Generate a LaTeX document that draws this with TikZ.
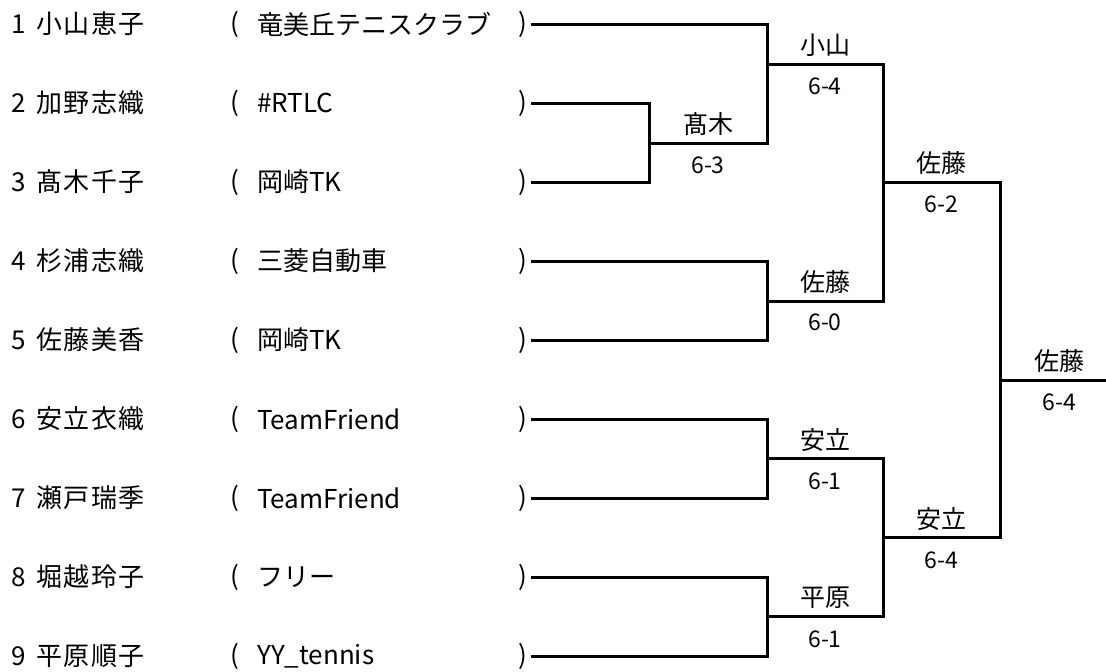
\documentclass[tikz,border=0pt]{standalone}
\usepackage{fontspec}
\setmainfont{Noto Sans CJK JP}
\begin{document}
\begin{tikzpicture}[x=1pt,y=-1pt,
  br/.style={line width=3pt,line cap=rect},
  ent/.style={anchor=west,inner sep=0pt,font=\fontsize{26}{28}\selectfont},
  nm/.style={ent,font=\fontsize{26}{28}\selectfont\addfontfeature{LetterSpace=6}},
  win/.style={inner sep=0pt,font=\fontsize{25}{28}\selectfont},
  sc/.style={inner sep=0pt,font=\fontsize{23}{26}\selectfont}]
\useasboundingbox (0,0) rectangle (1106,672);
% entries
\foreach \i/\n/\c/\y in {1/小山恵子/竜美丘テニスクラブ/24,2/加野志織/\#RTLC/103,3/髙木千子/岡崎TK/182,4/杉浦志織/三菱自動車/261,5/佐藤美香/岡崎TK/340,6/安立衣織/TeamFriend/419,7/瀬戸瑞季/TeamFriend/498,8/堀越玲子/フリー/577,9/平原順子/YY\_tennis/656}{
  \node[ent] (k\i) at (11,\y) {\i};
  \node[nm] (n\i) at (36,\y) {\n};
  \node[ent] (o\i) at (230,\y) {(};
  \node[ent] (c\i) at (257,\y) {\c};
  \node[ent,anchor=east] (cl\i) at (527,\y) {)};
  \coordinate (s\i) at (532,\y);
}
% coordinates
\coordinate (v23) at (649,143); \coordinate (w23) at (767,143);
\coordinate (q1) at (767,64);   \coordinate (r1) at (883,64);
\coordinate (q45) at (767,301); \coordinate (r45) at (883,301);
\coordinate (t1) at (883,182);  \coordinate (u1) at (1000,182);
\coordinate (q67) at (767,458); \coordinate (r67) at (883,458);
\coordinate (q89) at (767,616); \coordinate (r89) at (883,616);
\coordinate (t2) at (883,537);  \coordinate (u2) at (1000,537);
\coordinate (f) at (1000,380);  \coordinate (fe) at (1106,380);
% bracket lines
\draw[br] (s2) -| (v23) |- (s3);
\draw[br] (v23) -- (w23);
\draw[br] (s1) -| (q1) -- (w23);
\draw[br] (q1) -- (r1);
\draw[br] (s4) -| (q45) |- (s5);
\draw[br] (q45) -- (r45);
\draw[br] (r1) -- (r45);
\draw[br] (t1) -- (u1);
\draw[br] (s6) -| (q67) |- (s7);
\draw[br] (q67) -- (r67);
\draw[br] (s8) -| (q89) |- (s9);
\draw[br] (q89) -- (r89);
\draw[br] (r67) -- (r89);
\draw[br] (t2) -- (u2);
\draw[br] (u1) -- (u2);
\draw[br,line cap=butt] (f) -- (fe);
% winners and scores
\node[win] (a1) at (708,124) {髙木};   \node[sc] (b1) at (708,165) {6-3};
\node[win] (a2) at (825,45) {小山};    \node[sc] (b2) at (825,86) {6-4};
\node[win] (a3) at (825,282) {佐藤};   \node[sc] (b3) at (825,322) {6-0};
\node[win] (a4) at (941,163) {佐藤};   \node[sc] (b4) at (941,204) {6-2};
\node[win] (a5) at (825,440) {安立};   \node[sc] (b5) at (825,481) {6-1};
\node[win] (a6) at (825,598) {平原};   \node[sc] (b6) at (825,639) {6-1};
\node[win] (a7) at (941,519) {安立};   \node[sc] (b7) at (941,560) {6-4};
\node[win] (a8) at (1059,361) {佐藤};  \node[sc] (b8) at (1059,402) {6-4};
\end{tikzpicture}
\end{document}
